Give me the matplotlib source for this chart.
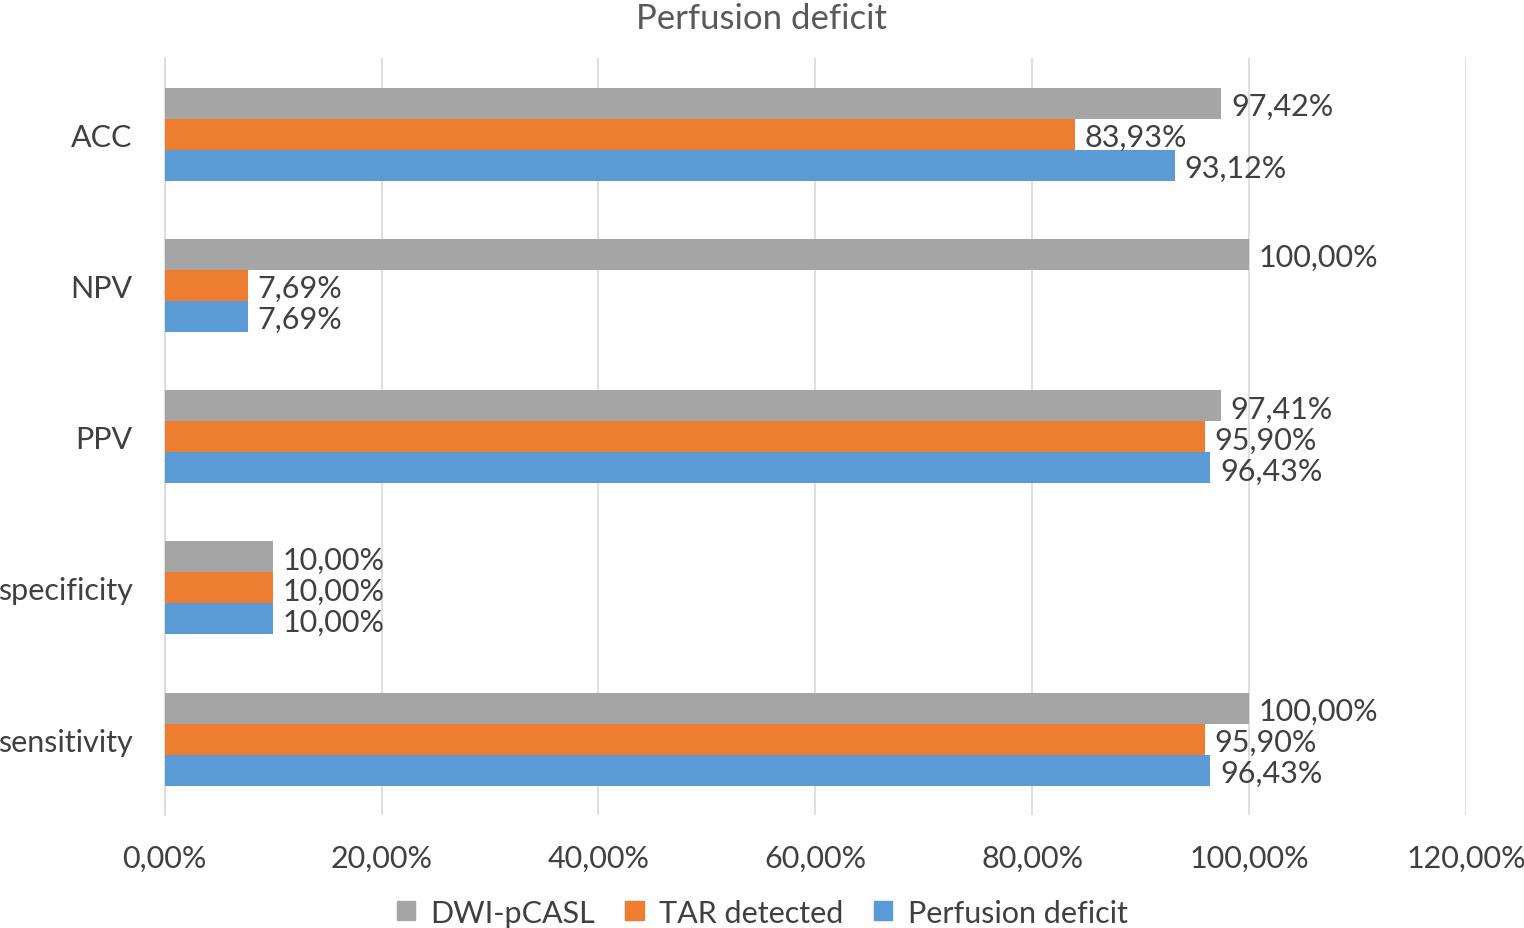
import numpy as np
import matplotlib.pyplot as plt
from matplotlib.patches import Patch

categories = ['sensitivity', 'specificity', 'PPV', 'NPV', 'ACC']
dwi_pcasl = [100.00, 10.00, 97.41, 100.00, 97.42]
tar_detected = [95.90, 10.00, 95.90, 7.69, 83.93]
perfusion_deficit = [96.43, 10.00, 96.43, 7.69, 93.12]
x_ticks = [0, 20, 40, 60, 80, 100, 120]

c_gray = '#A5A5A5'
c_orange = '#ED7D31'
c_blue = '#5B9BD5'
txt = '#404040'
fs = 22

plt.rcParams['font.family'] = ['Lato', 'DejaVu Sans']

fig = plt.figure(figsize=(15.24, 9.29), dpi=100)
ax = fig.add_axes([0.108, 0.122, 0.854, 0.814])

y = np.arange(len(categories))
h = 0.205
series = [(dwi_pcasl, c_gray, h), (tar_detected, c_orange, 0), (perfusion_deficit, c_blue, -h)]
for vals, col, off in series:
    ax.barh(y + off, vals, height=h, color=col, zorder=3)
    for yi, v in zip(y, vals):
        ax.annotate(('%.2f%%' % v).replace('.', ','), (v, yi + off),
                    xytext=(7, -2), textcoords='offset points',
                    va='center', ha='left', fontsize=fs, color=txt, zorder=4)

ax.set_xlim(0, 120)
ax.set_ylim(-0.5, 4.5)
ax.set_xticks(x_ticks)
ax.set_xticklabels([('%.2f%%' % t).replace('.', ',') for t in x_ticks], fontsize=fs, color=txt)
ax.set_yticks(y)
ax.set_yticklabels(categories, fontsize=fs, color=txt)
ax.tick_params(length=0)
ax.tick_params(axis='x', pad=21)
ax.tick_params(axis='y', pad=23)
ax.grid(axis='x', color='#D9D9D9', linewidth=1.2, zorder=0)
for s in ['top', 'right', 'bottom']:
    ax.spines[s].set_visible(False)
ax.spines['left'].set_color('#D9D9D9')
ax.spines['left'].set_linewidth(1.2)

fig.suptitle('Perfusion deficit', y=0.997, fontsize=25, color='#595959')

handles = [Patch(color=c_gray, label='DWI-pCASL'),
           Patch(color=c_orange, label='TAR detected'),
           Patch(color=c_blue, label='Perfusion deficit')]
fig.legend(handles=handles, loc='lower center', bbox_to_anchor=(0.5, -0.028), ncol=3,
           frameon=False, fontsize=fs, labelcolor=txt, handlelength=0.6, handleheight=0.6,
           handletextpad=0.5, columnspacing=1.0)

fig.savefig('out.png', dpi=100)
